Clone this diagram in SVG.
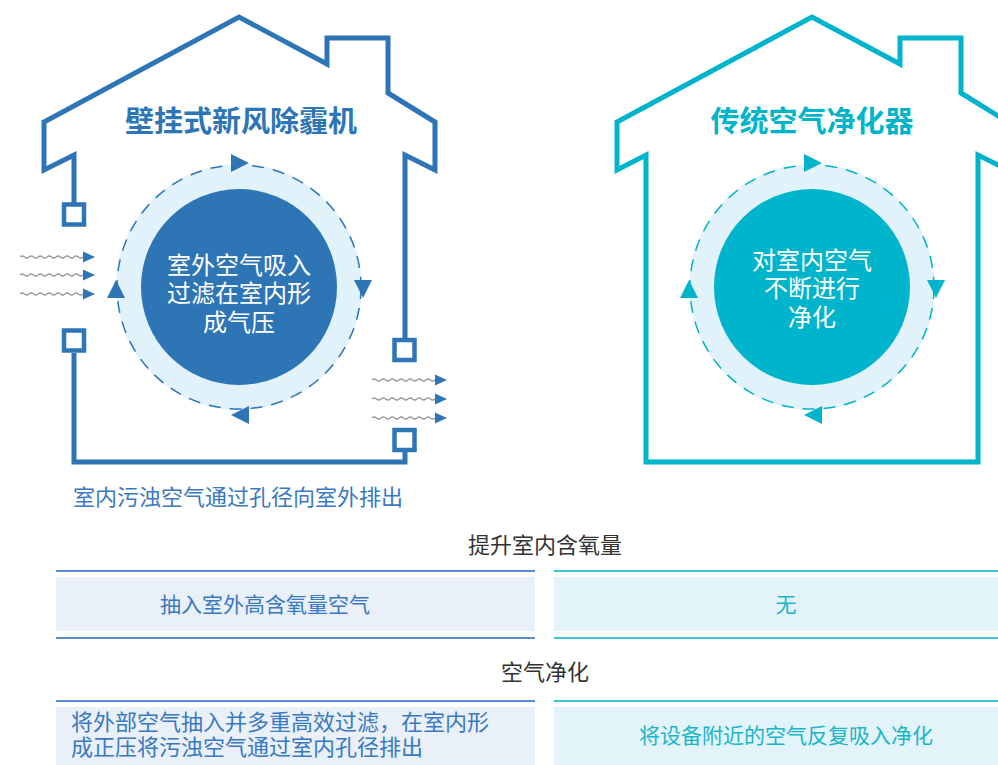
<svg xmlns="http://www.w3.org/2000/svg" xmlns:xlink="http://www.w3.org/1999/xlink" width="998" height="765" viewBox="0 0 998 765">
<style>
.blue-line{fill:none;stroke:#2e75b6;stroke-width:5;stroke-linejoin:miter}
.teal-line{fill:none;stroke:#00b4cb;stroke-width:5;stroke-linejoin:miter}
.sq{fill:#fff;stroke:#2e75b6;stroke-width:4.5}
.halo{fill:#e1f2fb}
.dash-b{fill:none;stroke:#2e75b6;stroke-width:1.5;stroke-dasharray:12 9}
.dash-t{fill:none;stroke:#00b4cb;stroke-width:1.5;stroke-dasharray:12 9}
.tri-b{fill:#2e75b6}
.tri-t{fill:#00b4cb}
.wave{fill:none;stroke:#9a9a9a;stroke-width:1.2}
.title{font-family:"Liberation Sans","Noto Sans CJK SC",sans-serif;font-weight:bold;font-size:29px;text-anchor:middle}
.inner{font-family:"Liberation Sans","Noto Sans CJK SC",sans-serif;font-size:24px;fill:#fff;text-anchor:middle}
.t{font-family:"Liberation Sans","Noto Sans CJK SC",sans-serif;font-size:21px}
</style>
<defs>
<g id="warrow">
<path class="wave" d="M0,0 q2.25,-2 4.5,0 t4.5,0 t4.5,0 t4.5,0 t4.5,0 t4.5,0 t4.5,0 t4.5,0 t4.5,0 t4.5,0 t4.5,0 t4.5,0 t4.5,0 t4.5,0"/>
<polygon points="63,-5.5 75,0 63,5.5" fill="#2e75b6"/>
</g>
</defs>

<g id="house-left">
<path class="blue-line" d="M74,204 L74,155 L44,170 L44,122 L239,17 L327,64 L327,38 L388,38 L388,93 L435,122 L435,170 L405,155 L405,340"/>
<path class="blue-line" d="M74,353 L74,462 L405,462 L405,452"/>
<rect class="sq" x="64" y="204.5" width="20" height="20"/>
<rect class="sq" x="64" y="330.5" width="20" height="20"/>
<rect class="sq" x="394.5" y="340" width="20" height="20"/>
<rect class="sq" x="394.5" y="430" width="20" height="20"/>
</g>

<g id="airflow-left">
<use xlink:href="#warrow" transform="translate(20,257)"/>
<use xlink:href="#warrow" transform="translate(20,275)"/>
<use xlink:href="#warrow" transform="translate(20,294)"/>
<use xlink:href="#warrow" transform="translate(372,380)"/>
<use xlink:href="#warrow" transform="translate(372,399)"/>
<use xlink:href="#warrow" transform="translate(372,418)"/>
</g>

<g id="cycle-left">
<circle class="halo" cx="239" cy="287" r="123"/>
<circle class="dash-b" cx="239" cy="287" r="122"/>
<circle cx="239" cy="287" r="98" fill="#2e75b6"/>
<polygon class="tri-b" points="231,154 249,163 231,172"/>
<polygon class="tri-b" points="354,280 372,280 363,298"/>
<polygon class="tri-b" points="249,406 249,424 231,415"/>
<polygon class="tri-b" points="107,298 125,298 116,280"/>
<text class="inner" x="239" y="274">室外空气吸入</text>
<text class="inner" x="239" y="302">过滤在室内形</text>
<text class="inner" x="239" y="331">成气压</text>
</g>

<g id="title-left">
<text class="title" x="241" y="132" fill="#2e75b6">壁挂式新风除霾机</text>
</g>

<g id="house-right">
<path class="teal-line" d="M646,462 L646,155 L617,170 L617,122 L812,17 L900,64 L900,38 L961,38 L961,93 L1008,122 L1008,170 L978,155 L978,462 Z"/>
</g>

<g id="cycle-right">
<circle class="halo" cx="812" cy="287" r="123"/>
<circle class="dash-t" cx="812" cy="287" r="122"/>
<circle cx="812" cy="287" r="98" fill="#00b4cb"/>
<polygon class="tri-t" points="804,154 822,163 804,172"/>
<polygon class="tri-t" points="927,280 945,280 936,298"/>
<polygon class="tri-t" points="822,406 822,424 804,415"/>
<polygon class="tri-t" points="680,298 698,298 689,280"/>
<text class="inner" x="812" y="269">对室内空气</text>
<text class="inner" x="812" y="297">不断进行</text>
<text class="inner" x="812" y="326">净化</text>
</g>

<g id="title-right">
<text class="title" x="812" y="132" fill="#00b4cb">传统空气净化器</text>
</g>

<g id="caption-left">
<text class="t" x="73" y="505" fill="#3a78c0" style="font-size:22px">室内污浊空气通过孔径向室外排出</text>
</g>

<g id="row-oxygen">
<text class="t" x="545" y="553" fill="#333" text-anchor="middle" style="font-size:22px">提升室内含氧量</text>
<line x1="56" y1="571" x2="535" y2="571" stroke="#5b8ccc" stroke-width="2"/>
<line x1="554" y1="571" x2="998" y2="571" stroke="#3fc4d6" stroke-width="2"/>
<rect x="56" y="577" width="479" height="54" fill="#e9f0f8"/>
<rect x="554" y="577" width="444" height="54" fill="#e2f4f9"/>
<line x1="56" y1="638" x2="535" y2="638" stroke="#5b8ccc" stroke-width="2"/>
<line x1="554" y1="638" x2="998" y2="638" stroke="#3fc4d6" stroke-width="2"/>
<text class="t" x="265" y="612" fill="#3a78c0" text-anchor="middle">抽入室外高含氧量空气</text>
<text class="t" x="786" y="612" fill="#19b5c9" text-anchor="middle">无</text>
</g>

<g id="row-purify">
<text class="t" x="545" y="680" fill="#333" text-anchor="middle" style="font-size:22px">空气净化</text>
<line x1="56" y1="701" x2="535" y2="701" stroke="#5b8ccc" stroke-width="2"/>
<line x1="554" y1="701" x2="998" y2="701" stroke="#3fc4d6" stroke-width="2"/>
<rect x="56" y="707" width="479" height="58" fill="#e9f0f8"/>
<rect x="554" y="707" width="444" height="58" fill="#e2f4f9"/>
<text class="t" x="71" y="730" fill="#3a78c0" style="font-size:22px">将外部空气抽入并多重高效过滤，在室内形</text>
<text class="t" x="71" y="755" fill="#3a78c0" style="font-size:22px">成正压将污浊空气通过室内孔径排出</text>
<text class="t" x="786" y="743" fill="#19b5c9" text-anchor="middle">将设备附近的空气反复吸入净化</text>
</g>
</svg>
